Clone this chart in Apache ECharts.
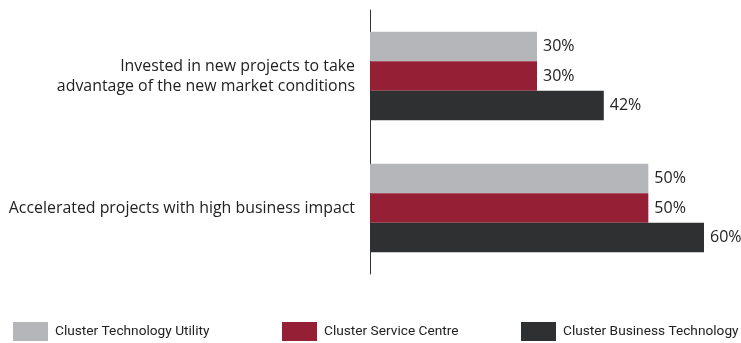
<!DOCTYPE html>
<html>
<head>
<meta charset="utf-8">
<script src="https://cdn.jsdelivr.net/npm/echarts@6/dist/echarts.min.js"></script>
<style>
  html, body { margin: 0; padding: 0; background: #fff; }
  #chart { width: 741px; height: 343px; }
</style>
</head>
<body>
<div id="chart"></div>
<script>
// Survey responses per cluster, in percent
const categories = [
  'Invested in new projects to take\nadvantage of the new market conditions',
  'Accelerated projects with high business impact'
];
const seriesNames = ['Cluster Technology Utility', 'Cluster Service Centre', 'Cluster Business Technology'];
const technologyUtility = [30, 50];
const serviceCentre = [30, 50];
const businessTechnology = [42, 60];
const colors = ['#b5b6b9', '#952036', '#2f3032'];

const FONT = '"Open Sans", Roboto, sans-serif';
const LEGEND_FONT = 'Roboto, "Noto Sans", sans-serif';
const seriesValues = [technologyUtility, serviceCentre, businessTechnology];

const chart = echarts.init(document.getElementById('chart'), null, { renderer: 'canvas' });

const legendLefts = [13, 282, 521];

chart.setOption({
  animation: false,
  backgroundColor: '#ffffff',
  grid: { left: 370, top: 10, width: 334, height: 264, containLabel: false },
  xAxis: {
    type: 'value', min: 0, max: 60,
    show: false
  },
  yAxis: {
    type: 'category',
    inverse: true,
    data: categories,
    axisLine: { show: true, lineStyle: { color: '#333', width: 1 } },
    axisTick: { show: false },
    axisLabel: {
      margin: 15,
      color: '#222',
      fontFamily: FONT,
      fontSize: 15.9,
      lineHeight: 20,
      align: 'right'
    }
  },
  legend: seriesNames.map((name, i) => ({
    data: [name],
    left: legendLefts[i],
    top: 322,
    itemWidth: 35,
    itemHeight: 19,
    itemGap: 0,
    padding: 0,
    icon: 'rect',
    selectedMode: false,
    textStyle: { color: '#222', fontFamily: LEGEND_FONT, fontSize: 13.7, padding: [0, 0, 0, 2] }
  })),
  series: seriesNames.map((name, i) => ({
    name: name,
    type: 'bar',
    data: seriesValues[i],
    barWidth: 29.5,
    barGap: '0%',
    itemStyle: { color: colors[i] },
    label: {
      show: true,
      position: 'right',
      distance: 6,
      formatter: '{c}%',
      color: '#222',
      fontFamily: FONT,
      fontSize: 16
    }
  }))
});
</script>
</body>
</html>
